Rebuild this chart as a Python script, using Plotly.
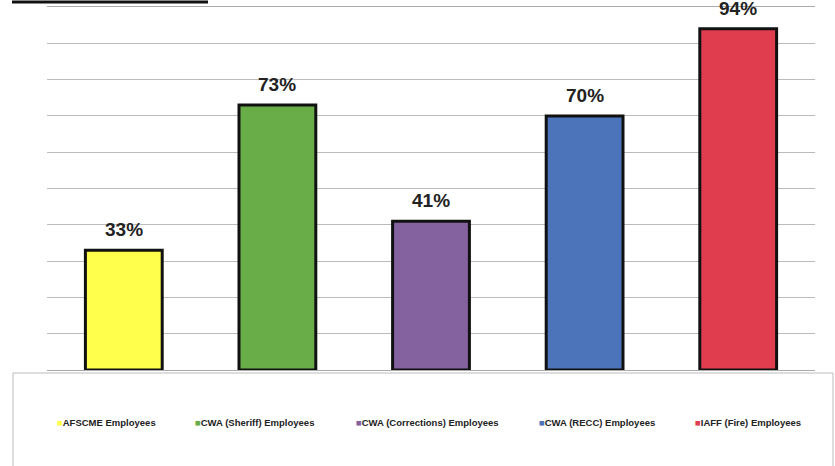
import plotly.graph_objects as go

categories = ["AFSCME Employees", "CWA (Sheriff) Employees", "CWA (Corrections) Employees",
              "CWA (RECC) Employees", "IAFF (Fire) Employees"]
values = [33, 73, 41, 70, 94]
labels = ["33%", "73%", "41%", "70%", "94%"]
colors = ["#FFFF4C", "#69AD48", "#8462A0", "#4B74BA", "#E03D4F"]
legend_x_px = [55, 193, 354, 537, 693]

W, H = 835, 466
L, R, T, B = 47, 20, 7, 96
pw, ph = W - L - R, H - T - B

def px_x(x):
    return (x - L) / pw

def px_y(y):
    return (H - B - y) / ph

fig = go.Figure()
fig.add_trace(go.Bar(
    x=categories, y=values,
    marker=dict(color=colors, line=dict(color="#111111", width=3)),
    width=0.5, showlegend=False, hoverinfo="skip",
))

for c, v, t in zip(categories, values, labels):
    fig.add_annotation(x=c, y=v, text=f"<b>{t}</b>", showarrow=False, yanchor="bottom", yshift=8,
                       font=dict(family="Liberation Sans, Arial", size=19, color="#222222"))

# legend box
fig.add_shape(type="rect", xref="paper", yref="paper",
              x0=px_x(13), x1=px_x(833), y0=px_y(470), y1=px_y(373),
              line=dict(color="#BBBBBB", width=1), fillcolor="rgba(0,0,0,0)", layer="below")

for c, col, xp in zip(categories, colors, legend_x_px):
    fig.add_annotation(xref="paper", yref="paper", x=px_x(xp), y=px_y(422),
                       xanchor="left", yanchor="middle", showarrow=False,
                       text=f"<span style='color:{col}'>■</span><b>{c}</b>",
                       font=dict(family="Liberation Sans, Arial", size=9.5, color="#222222"))

# truncated title underline
fig.add_shape(type="line", xref="paper", yref="paper",
              x0=px_x(12), x1=px_x(208), y0=px_y(2), y1=px_y(2),
              line=dict(color="#111111", width=3))

fig.update_layout(
    width=W, height=H,
    margin=dict(l=L, r=R, t=T, b=B),
    paper_bgcolor="white", plot_bgcolor="white",
    bargap=0.5,
    xaxis=dict(showticklabels=False, showgrid=False, zeroline=False,
               showline=True, mirror=True, linecolor="#AAAAAA", linewidth=1),
    yaxis=dict(range=[0, 100], dtick=10, showticklabels=False,
               showgrid=True, gridcolor="#BBBBBB", gridwidth=1, zeroline=False),
)

fig.write_html("out.html", config={"displayModeBar": False},
               post_script="document.body.style.margin='0';")
